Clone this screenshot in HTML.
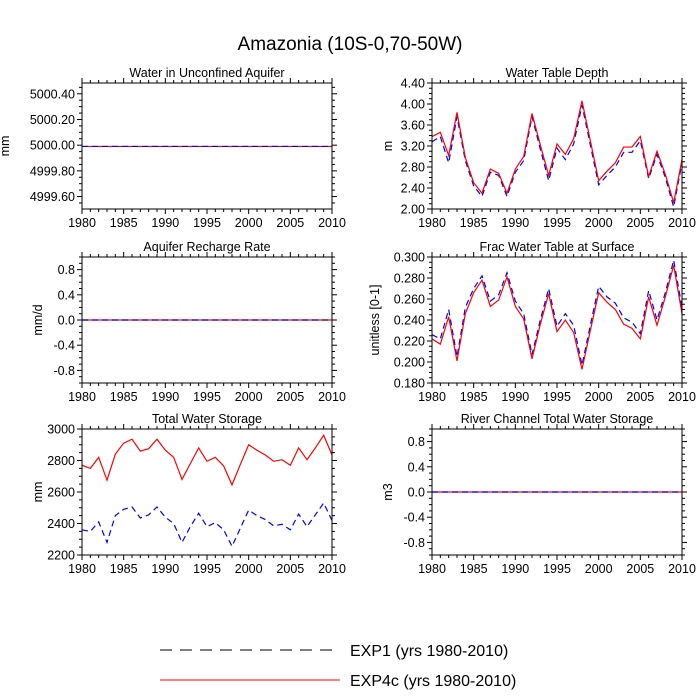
<!DOCTYPE html>
<html><head><meta charset="utf-8">
<style>
html,body{margin:0;padding:0;background:#fff;}
svg{display:block;font-family:"Liberation Sans",Arial,sans-serif;}
</style></head>
<body>
<svg id="chart" width="700" height="700" viewBox="0 0 700 700">
<text x="350" y="50" text-anchor="middle" font-size="19">Amazonia (10S-0,70-50W)</text>
<g id="panels"></g>
<g>
<line x1="160" y1="650" x2="340" y2="650" stroke="#000" stroke-width="1" stroke-dasharray="12,8"/>
<text x="350" y="656" font-size="16">EXP1 (yrs 1980-2010)</text>
<line x1="160" y1="680" x2="340" y2="680" stroke="#f00" stroke-width="1"/>
<text x="350" y="686" font-size="16">EXP4c (yrs 1980-2010)</text>
</g>
</svg>
<script>
const years = [1980,1981,1982,1983,1984,1985,1986,1987,1988,1989,1990,1991,1992,1993,1994,1995,1996,1997,1998,1999,2000,2001,2002,2003,2004,2005,2006,2007,2008,2009,2010];
const xTicks = [1980,1985,1990,1995,2000,2005,2010];
const aquiferExp1 = years.map(()=>4999.99);
const aquiferExp4c = years.map(()=>4999.99);
const rechargeExp1 = years.map(()=>0);
const rechargeExp4c = years.map(()=>0);
const riverExp1 = years.map(()=>0);
const riverExp4c = years.map(()=>0);
const wtdExp4c = [3.38,3.46,3.02,3.84,2.98,2.50,2.30,2.76,2.68,2.30,2.76,3.00,3.82,3.22,2.64,3.24,3.04,3.34,4.06,3.30,2.54,2.72,2.88,3.18,3.18,3.38,2.62,3.10,2.66,2.12,2.94];
const wtdExp1 = [3.28,3.38,2.88,3.76,2.92,2.44,2.24,2.70,2.64,2.24,2.70,2.92,3.76,3.14,2.54,3.16,2.94,3.24,3.98,3.22,2.46,2.64,2.80,3.08,3.08,3.30,2.58,3.04,2.60,2.04,2.88];
const fracExp4c = [.222,.217,.243,.201,.246,.266,.278,.253,.259,.281,.253,.241,.203,.236,.265,.229,.240,.228,.193,.230,.266,.257,.250,.236,.232,.222,.262,.235,.262,.292,.246];
const fracExp1 = [.226,.222,.250,.205,.252,.270,.282,.258,.264,.285,.258,.246,.207,.240,.270,.234,.246,.235,.197,.235,.272,.262,.256,.242,.238,.227,.268,.240,.266,.297,.252];
const twsExp4c = [2770,2750,2820,2675,2840,2910,2935,2860,2875,2935,2865,2820,2680,2780,2880,2795,2820,2765,2645,2775,2900,2865,2835,2795,2805,2770,2880,2805,2880,2960,2835];
const twsExp1 = [2360,2350,2410,2280,2450,2490,2505,2435,2455,2505,2440,2400,2280,2380,2465,2380,2405,2360,2255,2370,2485,2450,2425,2385,2395,2360,2460,2380,2455,2530,2420];
const aquiferTicks = [4999.6,4999.8,5000.0,5000.2,5000.4];
const pmTicks = [-0.8,-0.4,0.0,0.4,0.8];
const wtdTicks = [2.0,2.4,2.8,3.2,3.6,4.0,4.4];
const fracTicks = [0.18,0.2,0.22,0.24,0.26,0.28,0.30];
const twsTicks = [2200,2400,2600,2800,3000];

const NS='http://www.w3.org/2000/svg';
const root=document.getElementById('panels');
function mk(tag,attrs,parent){const e=document.createElementNS(NS,tag);for(const k in attrs)e.setAttribute(k,attrs[k]);parent.appendChild(e);return e;}

const panels=[
 {name:'water-in-unconfined-aquifer',title:'Water in Unconfined Aquifer',yl:'mm',lx:9,x0:82,y0:83,ymin:4999.503,ymax:5000.484,ticks:aquiferTicks,dec:2,minor:4,e1:aquiferExp1,e4:aquiferExp4c,blueTop:true},
 {name:'water-table-depth',title:'Water Table Depth',yl:'m',lx:392,x0:432,y0:83,ymin:2.0,ymax:4.4,ticks:wtdTicks,dec:2,minor:4,e1:wtdExp1,e4:wtdExp4c},
 {name:'aquifer-recharge-rate',title:'Aquifer Recharge Rate',yl:'mm/d',lx:42,x0:82,y0:257,ymin:-1,ymax:1,ticks:pmTicks,dec:1,minor:4,e1:rechargeExp1,e4:rechargeExp4c,blueTop:true},
 {name:'frac-water-table-at-surface',title:'Frac Water Table at Surface',yl:'unitless [0-1]',lx:379,x0:432,y0:257,ymin:0.18,ymax:0.30,ticks:fracTicks,dec:3,minor:4,e1:fracExp1,e4:fracExp4c},
 {name:'total-water-storage',title:'Total Water Storage',yl:'mm',lx:42,x0:82,y0:429,ymin:2200,ymax:3000,ticks:twsTicks,dec:0,minor:4,e1:twsExp1,e4:twsExp4c},
 {name:'river-channel-total-water-storage',title:'River Channel Total Water Storage',yl:'m3',lx:392,x0:432,y0:429,ymin:-1,ymax:1,ticks:pmTicks,dec:1,minor:4,e1:riverExp1,e4:riverExp4c,blueTop:true}
];
const W=250,H=126;
panels.forEach(p=>{
 const g=mk('g',{},root);
 
 
 const xs=v=>p.x0+(v-1980)/30*W;
 const ys=v=>p.y0+H-(v-p.ymin)/(p.ymax-p.ymin)*H;
 const t=mk('text',{x:p.x0+W/2,y:p.y0-6,'text-anchor':'middle','font-size':12.5},g);t.textContent=p.title;
 
 
 for(let y=1980;y<=2010;y++){
  const major=(y%5===0);const L=major?5:3;const x=xs(y);
  mk('line',{x1:x,x2:x,y1:p.y0+H,y2:p.y0+H+L,stroke:'#000'},g);
  mk('line',{x1:x,x2:x,y1:p.y0,y2:p.y0-L,stroke:'#000'},g);
 }
 xTicks.forEach(v=>{const tx=mk('text',{x:xs(v),y:p.y0+H+18,'text-anchor':'middle','font-size':12.5},g);tx.textContent=v;
  
  });
 const step=p.ticks[1]-p.ticks[0];const ms=step/p.minor;
 for(let v=p.ticks[0]-step*3;v<=p.ticks[p.ticks.length-1]+step*3+1e-9;v+=ms){
  if(v<p.ymin-1e-9||v>p.ymax+1e-9)continue;
  const k=Math.round((v-p.ticks[0])/ms);const major=(k%p.minor===0);const L=major?5:3;const y=ys(v);
  mk('line',{x1:p.x0,x2:p.x0-L,y1:y,y2:y,stroke:'#000'},g);
  mk('line',{x1:p.x0+W,x2:p.x0+W+L,y1:y,y2:y,stroke:'#000'},g);
 }
 p.ticks.forEach(v=>{const ty=mk('text',{x:p.x0-7,y:ys(v)+4.5,'text-anchor':'end','font-size':12.5},g);ty.textContent=v.toFixed(p.dec);
  
  });
 const yl=mk('text',{x:0,y:0,'text-anchor':'middle','font-size':12.5,transform:`translate(${p.lx},${p.y0+H/2}) rotate(-90)`},g);yl.textContent=p.yl;
 
 
 const pts=a=>a.map((v,i)=>xs(years[i]).toFixed(2)+','+ys(v).toFixed(2)).join(' ');
 const drawBlue=()=>{const l1=mk('polyline',{points:pts(p.e1),fill:'none',stroke:'#00f','stroke-width':1.2,'stroke-dasharray':'6,4'},g);
  
  };
 const drawRed=()=>{const l4=mk('polyline',{points:pts(p.e4),fill:'none',stroke:'#f00','stroke-width':1.2},g);
  
  };
 if(p.blueTop){drawRed();drawBlue();}else{drawBlue();drawRed();}
 const b=mk('rect',{x:p.x0,y:p.y0,width:W,height:H,fill:'none',stroke:'#000','stroke-width':1},g);
 
 
});
</script>
</body></html>
